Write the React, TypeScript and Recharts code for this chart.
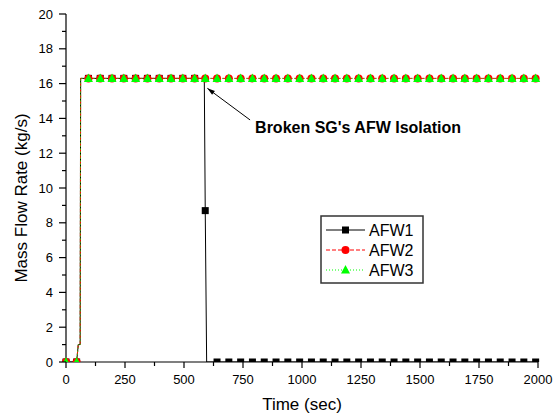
import React from 'react';
import { LineChart, Line, XAxis, YAxis, Legend, ReferenceLine, Label } from 'recharts';

// time samples (sec); the ones listed in UNMARKED_TIMES are drawn without a symbol
const TIME = [
  0, 45, 52, 60, 62, 95, 145, 195, 245, 295, 345, 395, 445, 495, 545, 586, 590, 596,
  640, 690, 740, 790, 840, 890, 940, 990, 1040, 1090, 1140, 1190, 1240, 1290, 1340,
  1390, 1440, 1490, 1540, 1590, 1640, 1690, 1740, 1790, 1840, 1890, 1940, 1990,
];
const UNMARKED_TIMES = [52, 60, 62, 586, 596];

// mass flow rate (kg/s)
const AFW1 = [
  0, 0, 1, 1, 16.3, 16.3, 16.3, 16.3, 16.3, 16.3, 16.3, 16.3, 16.3, 16.3, 16.3, 16.3, 8.7, 0,
  0, 0, 0, 0, 0, 0, 0, 0, 0, 0, 0, 0, 0, 0, 0,
  0, 0, 0, 0, 0, 0, 0, 0, 0, 0, 0, 0, 0,
];
const AFW2 = [
  0, 0, 1, 1, 16.3, 16.3, 16.3, 16.3, 16.3, 16.3, 16.3, 16.3, 16.3, 16.3, 16.3, 16.3, 16.3, 16.3,
  16.3, 16.3, 16.3, 16.3, 16.3, 16.3, 16.3, 16.3, 16.3, 16.3, 16.3, 16.3, 16.3, 16.3, 16.3,
  16.3, 16.3, 16.3, 16.3, 16.3, 16.3, 16.3, 16.3, 16.3, 16.3, 16.3, 16.3, 16.3,
];
const AFW3 = [
  0, 0, 1, 1, 16.3, 16.3, 16.3, 16.3, 16.3, 16.3, 16.3, 16.3, 16.3, 16.3, 16.3, 16.3, 16.3, 16.3,
  16.3, 16.3, 16.3, 16.3, 16.3, 16.3, 16.3, 16.3, 16.3, 16.3, 16.3, 16.3, 16.3, 16.3, 16.3,
  16.3, 16.3, 16.3, 16.3, 16.3, 16.3, 16.3, 16.3, 16.3, 16.3, 16.3, 16.3, 16.3,
];

const X_TICKS = [0, 125, 250, 375, 500, 625, 750, 875, 1000, 1125, 1250, 1375, 1500, 1625, 1750, 1875, 2000];
const Y_TICKS = [0, 1, 2, 3, 4, 5, 6, 7, 8, 9, 10, 11, 12, 13, 14, 15, 16, 17, 18, 19, 20];

// annotation arrow: tip and tail in data units
const ARROW_TIP = { x: 599, y: 15.73 };
const ARROW_TAIL = { x: 780, y: 13.91 };
const ANNOTATION = "Broken SG's AFW Isolation";

const data = TIME.map((t, i) => ({ time: t, afw1: AFW1[i], afw2: AFW2[i], afw3: AFW3[i] }));

const SERIES = [
  { key: 'afw1', name: 'AFW1', color: '#000000', dash: undefined, marker: 'square' },
  { key: 'afw2', name: 'AFW2', color: '#ff0000', dash: '4 2', marker: 'circle' },
  { key: 'afw3', name: 'AFW3', color: '#00ff00', dash: '1 2', marker: 'triangle' },
];

const FONT = '"Liberation Sans", Arial, sans-serif';

function drawMarker(kind: string, cx: number, cy: number, color: string, key?: string) {
  if (kind === 'square') {
    return <rect key={key} x={cx - 3.5} y={cy - 3.5} width={7} height={7} fill={color} />;
  }
  if (kind === 'circle') {
    return <circle key={key} cx={cx} cy={cy} r={4} fill={color} />;
  }
  return (
    <polygon
      key={key}
      points={`${cx},${cy - 5} ${cx - 4.5},${cy + 3.5} ${cx + 4.5},${cy + 3.5}`}
      fill={color}
    />
  );
}

const makeDot = (kind: string, color: string) => (props: any) => {
  const { cx, cy, index, payload } = props;
  const key = `dot-${kind}-${index}`;
  if (cx == null || cy == null || UNMARKED_TIMES.includes(payload.time)) return <g key={key} />;
  return drawMarker(kind, cx, cy, color, key);
};

const XTick = (props: any) => {
  const { x, y, payload } = props;
  const axisY = y - 13;
  const major = payload.value % 250 === 0;
  return (
    <g>
      <line x1={x} x2={x} y1={axisY} y2={axisY + (major ? 6 : 4)} stroke="#000" strokeWidth={1.2} />
      {major && (
        <text x={x} y={y} dy="0.71em" textAnchor="middle" fontSize={13} fill="#000" fontFamily={FONT}>
          {payload.value}
        </text>
      )}
    </g>
  );
};

const YTick = (props: any) => {
  const { x, y, payload } = props;
  const axisX = x + 13;
  const major = payload.value % 2 === 0;
  return (
    <g>
      <line x1={axisX - (major ? 7 : 4)} x2={axisX} y1={y} y2={y} stroke="#000" strokeWidth={1.2} />
      {major && (
        <text x={x} y={y} dy="0.355em" textAnchor="end" fontSize={13} fill="#000" fontFamily={FONT}>
          {payload.value}
        </text>
      )}
    </g>
  );
};

const ArrowShape = (props: any) => {
  const { x1, y1, x2, y2 } = props;
  if (x1 == null) return <g />;
  const ang = Math.atan2(y1 - y2, x1 - x2);
  const len = 8;
  const spread = 0.3;
  const hx1 = x1 - len * Math.cos(ang - spread);
  const hy1 = y1 - len * Math.sin(ang - spread);
  const hx2 = x1 - len * Math.cos(ang + spread);
  const hy2 = y1 - len * Math.sin(ang + spread);
  return (
    <g>
      <line x1={x1} y1={y1} x2={x2} y2={y2} stroke="#000" strokeWidth={1} />
      <polygon points={`${x1},${y1} ${hx1},${hy1} ${hx2},${hy2}`} fill="#000" />
      <text x={x2 + 5} y={y2 + 13} fontSize={16} fontWeight="bold" fill="#000" fontFamily={FONT}>
        {ANNOTATION}
      </text>
    </g>
  );
};

const renderLegend = (props: any) => {
  const items = props.payload || [];
  return (
    <svg width={104} height={70} style={{ display: 'block' }}>
      <rect x={1} y={1} width={102} height={67} fill="#fff" stroke="#333" strokeWidth={1.5} />
      {items.map((entry: any, i: number) => {
        const s = SERIES.find((q) => q.key === entry.dataKey) || SERIES[i];
        const cy = 15 + i * 20;
        return (
          <g key={s.key}>
            <line x1={6} x2={45} y1={cy} y2={cy} stroke={s.color} strokeWidth={1} strokeDasharray={s.dash} />
            {drawMarker(s.marker, 25.5, cy, s.color)}
            <text x={49} y={cy} dy="0.36em" fontSize={16} fill="#000" fontFamily={FONT}>
              {entry.value}
            </text>
          </g>
        );
      })}
    </svg>
  );
};

export default function App() {
  return (
    <div style={{ position: 'absolute', left: 0, top: 0, background: '#fff', fontFamily: FONT }}>
      <LineChart width={560} height={419} data={data} margin={{ top: 14, right: 22, bottom: 0, left: 0 }}>
        <XAxis
          dataKey="time"
          type="number"
          domain={[0, 2000]}
          ticks={X_TICKS}
          interval={0}
          height={57}
          tickSize={6}
          tickMargin={7}
          tickLine={false}
          tick={<XTick />}
          axisLine={{ stroke: '#000', strokeWidth: 1.2 }}
        >
          <Label
            content={() => (
              <text x={302} y={410} textAnchor="middle" fontSize={17} fill="#000" fontFamily={FONT}>
                Time (sec)
              </text>
            )}
          />
        </XAxis>
        <YAxis
          type="number"
          domain={[0, 20]}
          ticks={Y_TICKS}
          interval={0}
          width={66}
          allowDataOverflow
          tickSize={7}
          tickMargin={6}
          tickLine={false}
          tick={<YTick />}
          axisLine={{ stroke: '#000', strokeWidth: 1.2 }}
        >
          <Label
            content={() => (
              <text
                transform="translate(27,198) rotate(-90)"
                textAnchor="middle"
                fontSize={17}
                fill="#000"
                fontFamily={FONT}
              >
                Mass Flow Rate (kg/s)
              </text>
            )}
          />
        </YAxis>
        {SERIES.map((s) => (
          <Line
            key={s.key}
            dataKey={s.key}
            name={s.name}
            type="linear"
            stroke={s.color}
            strokeWidth={1}
            strokeDasharray={s.dash}
            dot={makeDot(s.marker, s.color)}
            activeDot={false}
            isAnimationActive={false}
          />
        ))}
        <ReferenceLine segment={[ARROW_TIP, ARROW_TAIL]} shape={<ArrowShape />} />
        <Legend
          layout="vertical"
          align="center"
          verticalAlign="middle"
          content={renderLegend}
          wrapperStyle={{ left: 320, top: 215, width: 104, height: 70 }}
        />
      </LineChart>
    </div>
  );
}
